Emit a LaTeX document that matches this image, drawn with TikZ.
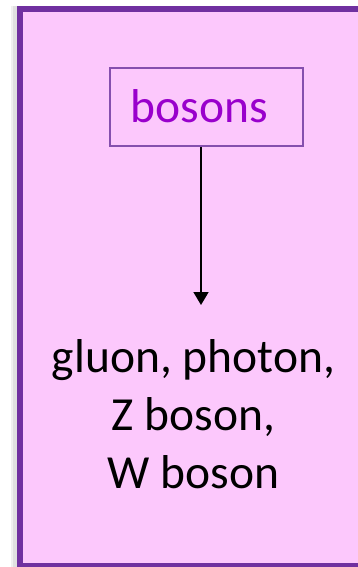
\documentclass[tikz,border=0pt]{standalone}
\usepackage{fontspec}
\setmainfont{Carlito}
\usetikzlibrary{arrows.meta}
\definecolor{pinkfill}{RGB}{252,200,252}
\definecolor{purpleline}{RGB}{112,48,160}
\definecolor{bosontext}{RGB}{153,0,204}
\tikzset{
  outerbox/.style={draw=purpleline, line width=6pt, fill=pinkfill},
  labelbox/.style={draw=purpleline!85, line width=1.6pt, fill=pinkfill},
  bigtext/.style={font=\fontsize{47.5}{58}\selectfont, inner sep=0pt},
  link/.style={line width=1.8pt, -{Triangle[length=13pt,width=15pt]}}
}
\begin{document}
\begin{tikzpicture}[x=1pt,y=-1pt]
\useasboundingbox (0,0) rectangle (357,567);
% shadow
\fill[black!12] (13,6) rectangle (17,575);
\fill[black!6] (11,6) rectangle (13,575);
\draw[outerbox] (20,8.7) rectangle (400,566);
\node[labelbox, minimum width=193pt, minimum height=78pt, inner sep=0pt] (box) at (206.5,107) {};
\node[bigtext, text=bosontext, anchor=base] (bosons) at (199.5,123) {bosons};
\node[bigtext, align=center, anchor=north] (list) at (193.5,339.5) {gluon, photon,\\Z boson,\\W boson};
\coordinate (tip) at (201,305);
\draw[link] (box.south -| tip) -- (tip);
\end{tikzpicture}
\end{document}
